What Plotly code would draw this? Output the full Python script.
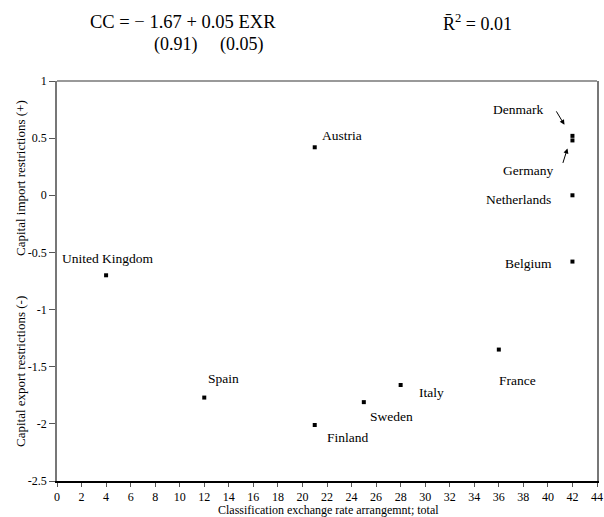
import plotly.graph_objects as go

countries = ["United Kingdom", "Austria", "Denmark", "Germany", "Netherlands",
             "Belgium", "France", "Spain", "Italy", "Sweden", "Finland"]
exr = [4, 21, 42, 42, 42, 42, 36, 12, 28, 25, 21]
cc = [-0.70, 0.42, 0.52, 0.48, 0.00, -0.58, -1.35, -1.77, -1.66, -1.81, -2.01]

# label offsets from the point, in pixels (x right, y up)
label_dx = [2, 27, -54, -44, -54, -44, 19, 19, 31, 28, 33]
label_dy = [17, 12, 26, -30, -4, -2, -31, 19, -7, -14, -12]

x_ticks = list(range(0, 45, 2))
y_ticks = [1, 0.5, 0, -0.5, -1, -1.5, -2, -2.5]
y_tick_text = ["1", "0.5", "0", "-0.5", "-1", "-1.5", "-2", "-2.5"]

FONT = "Liberation Serif"

fig = go.Figure()
fig.add_trace(go.Scatter(
    x=exr, y=cc, mode="markers",
    marker=dict(symbol="square", size=4, color="black", line=dict(width=0)),
    hoverinfo="text", text=countries, showlegend=False,
))

ann = []
for name, x, y, dx, dy in zip(countries, exr, cc, label_dx, label_dy):
    ann.append(dict(x=x, y=y, xref="x", yref="y", text=name, showarrow=False,
                    xanchor="center", yanchor="middle",
                    xshift=dx, yshift=dy, font=dict(family=FONT, size=13.5, color="black")))

# arrows for Denmark and Germany
ann.append(dict(x=exr[2], y=cc[2], xref="x", yref="y", text="", showarrow=True,
                ax=-9, ay=-15, xshift=-8, yshift=11, arrowhead=2, arrowsize=1,
                arrowwidth=1, arrowcolor="black"))
ann.append(dict(x=exr[3], y=cc[3], xref="x", yref="y", text="", showarrow=True,
                ax=-5, ay=16, xshift=-5, yshift=-8, arrowhead=2, arrowsize=1,
                arrowwidth=1, arrowcolor="black"))

def paper_text(x, y, text, size, angle=0):
    return dict(x=x, y=y, xref="paper", yref="paper", showarrow=False, text=text,
                xanchor="center", yanchor="middle", textangle=angle, borderpad=0,
                font=dict(family=FONT, size=size, color="black"))

# equation header
ann.append(paper_text(0.233, 1.1475, "CC = \u2212 1.67 + 0.05 EXR", 18.5))
ann.append(paper_text(0.28, 1.09, "(0.91)     (0.05)", 18))
ann.append(paper_text(0.778, 1.1475, "R\u0304<sup>2</sup> = 0.01", 18))

# axis titles
ann.append(paper_text(-0.0685, 0.7575, "Capital import restrictions (+)", 13, -90))
ann.append(paper_text(-0.0685, 0.2725, "Capital export restrictions (-)", 13, -90))
ann.append(paper_text(0.503, -0.0715, "Classification exchange rate arrangemnt; total", 12))

fig.update_layout(
    width=604, height=517,
    margin=dict(l=57, r=7, t=81, b=36, autoexpand=False),
    paper_bgcolor="white", plot_bgcolor="white",
    annotations=ann,
    shapes=[dict(type="line", xref="paper", yref="paper", x0=0, x1=1, y0=1, y1=1,
                 line=dict(color="#777777", width=1.5))],
    xaxis=dict(range=[0, 44], tickvals=x_ticks, ticktext=[str(v) for v in x_ticks],
               automargin=False,
               showgrid=False, zeroline=False, showline=True, linecolor="black", linewidth=1.5,
               ticks="outside", ticklen=4, tickcolor="#555555", tickwidth=1,
               tickfont=dict(family=FONT, size=12, color="black")),
    yaxis=dict(range=[-2.5, 1], tickvals=y_ticks, ticktext=y_tick_text,
               automargin=False,
               showgrid=False, zeroline=False, showline=True, linecolor="#777777", linewidth=1.5,
               mirror=True, ticks="outside", ticklen=6, tickcolor="#555555", tickwidth=1,
               tickfont=dict(family=FONT, size=12, color="black")),
)

fig.write_html("out.html", config={"displayModeBar": False},
               post_script="document.body.style.margin='0';")
